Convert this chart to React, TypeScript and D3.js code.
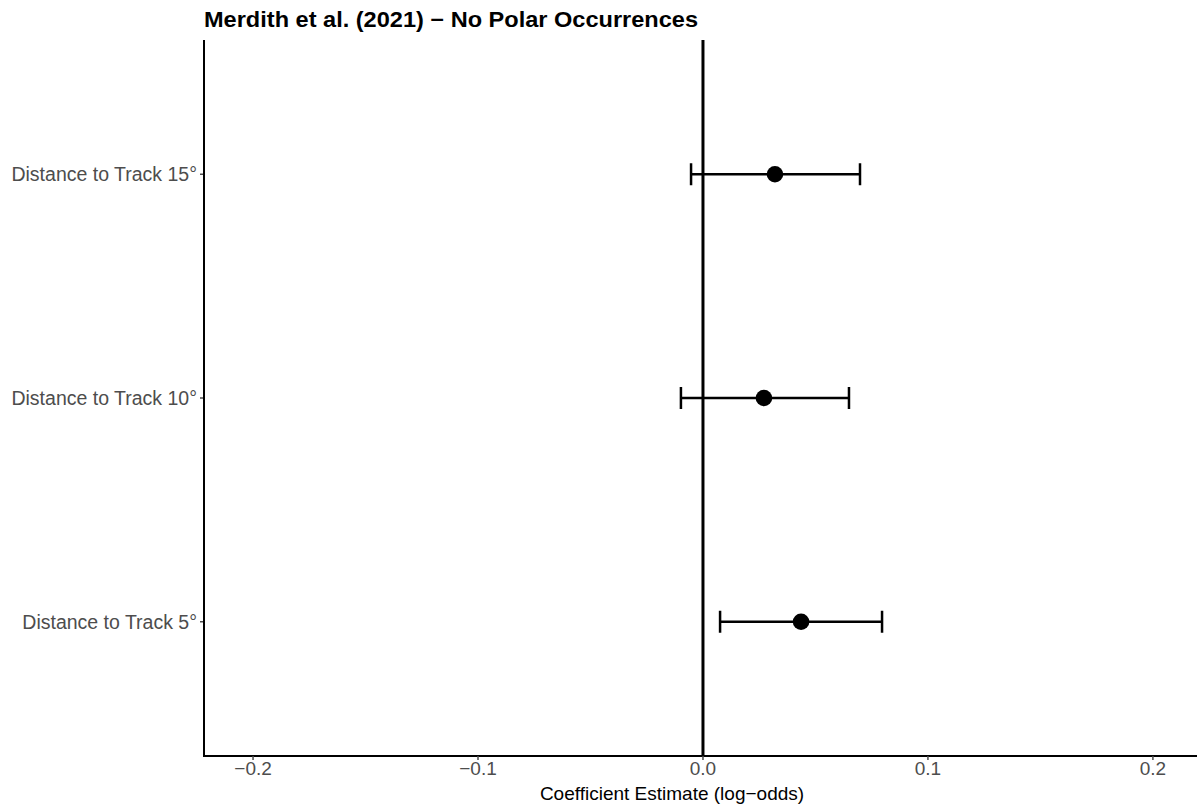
import React from 'react'
import * as d3 from 'd3'

const categories = ['Distance to Track 5°', 'Distance to Track 10°', 'Distance to Track 15°']
const estimates = [0.0436, 0.0271, 0.032]
const lower = [0.0076, -0.0098, -0.0053]
const upper = [0.0796, 0.0649, 0.0698]
const xTicks = [-0.2, -0.1, 0.0, 0.1, 0.2]

const W = 1198
const H = 807
const left = 204
const right = 1197
const top = 40
const bottom = 756

const App = () => {
  const x = d3.scaleLinear().domain([-0.2218, 0.2196]).range([left, right])
  // discrete axis with ggplot-style 0.6 expansion
  const y = d3.scaleLinear().domain([0.4, 3.6]).range([bottom, top])
  const fmt = d3.format('.1f')
  const tickColor = '#4d4d4d'
  const font = 'Arial, "Liberation Sans", sans-serif'

  return (
    <svg width={W} height={H} style={{ position: 'absolute', left: 0, top: 0 }} fontFamily={font}>
      <rect width={W} height={H} fill="white" />
      <text x={left} y={27} fontSize={21.5} fontWeight="bold" fill="black" textLength={494} lengthAdjust="spacingAndGlyphs">
        Merdith et al. (2021) − No Polar Occurrences
      </text>

      {/* zero reference line */}
      <line x1={x(0)} x2={x(0)} y1={top} y2={bottom} stroke="black" strokeWidth={3} />

      {categories.map((c, i) => {
        const cy = y(i + 1)
        return (
          <g key={c}>
            <line x1={x(lower[i])} x2={x(upper[i])} y1={cy} y2={cy} stroke="black" strokeWidth={2.5} />
            <line x1={x(lower[i])} x2={x(lower[i])} y1={cy - 11} y2={cy + 11} stroke="black" strokeWidth={2.5} />
            <line x1={x(upper[i])} x2={x(upper[i])} y1={cy - 11} y2={cy + 11} stroke="black" strokeWidth={2.5} />
            <circle cx={x(estimates[i])} cy={cy} r={8.3} fill="black" />
            <line x1={left - 4} x2={left} y1={cy} y2={cy} stroke={tickColor} strokeWidth={1.5} />
            <text x={left - 7} y={cy} dy="0.35em" textAnchor="end" fontSize={19.5} fill={tickColor}>
              {c}
            </text>
          </g>
        )
      })}

      {/* axes */}
      <line x1={left} x2={left} y1={top} y2={bottom} stroke="black" strokeWidth={2} />
      <line x1={left - 1} x2={right} y1={bottom} y2={bottom} stroke="black" strokeWidth={2} />
      {xTicks.map((t) => (
        <g key={t}>
          <line x1={x(t)} x2={x(t)} y1={bottom} y2={bottom + 4} stroke={tickColor} strokeWidth={1.5} />
          <text x={x(t)} y={775} textAnchor="middle" fontSize={19} fill={tickColor}>
            {fmt(t).replace('-', '−')}
          </text>
        </g>
      ))}
      <text x={672} y={800} textAnchor="middle" fontSize={19} fill="black">
        Coefficient Estimate (log−odds)
      </text>
    </svg>
  )
}

export default App
